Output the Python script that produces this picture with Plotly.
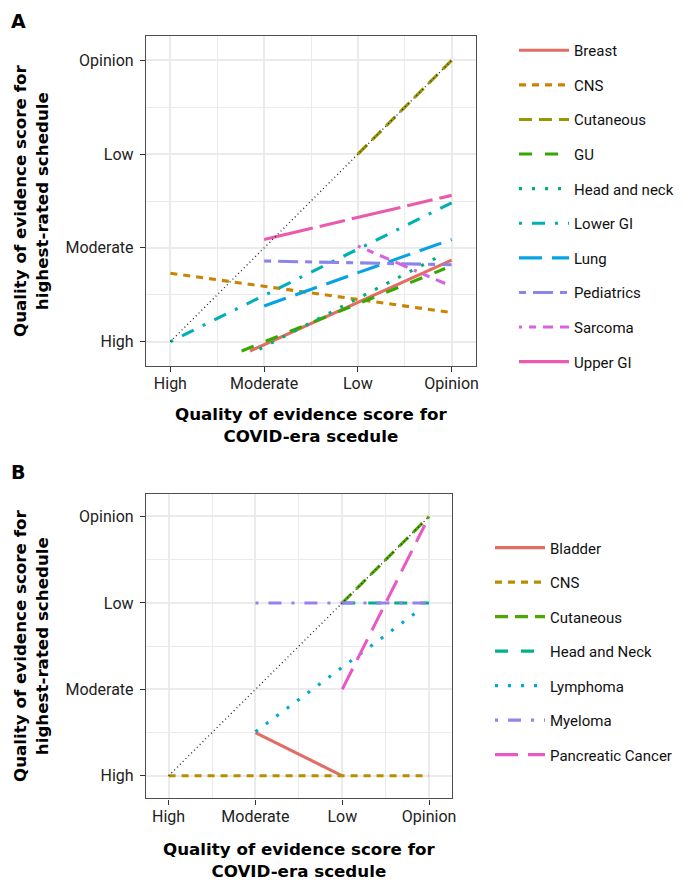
import plotly.graph_objects as go

# ---------------- data ----------------
levels = ["High", "Moderate", "Low", "Opinion"]
level_vals = [1, 2, 3, 4]
diag = [1, 4]

a_names = ["Breast", "CNS", "Cutaneous", "GU", "Head and neck", "Lower GI",
           "Lung", "Pediatrics", "Sarcoma", "Upper GI"]
a_covid = [[1.85, 4.0], [1, 4], [3, 4], [1.76, 3.93], [1.95, 3.91],
           [1, 4], [2, 4], [2, 4], [3, 4], [2, 4]]
a_best = [[0.90, 1.87], [1.73, 1.31], [3, 4], [0.90, 1.78], [0.92, 1.93],
          [1, 2.48], [1.38, 2.09], [1.86, 1.82], [2.02, 1.59], [2.09, 2.56]]

b_names = ["Bladder", "CNS", "Cutaneous", "Head and Neck", "Lymphoma",
           "Myeloma", "Pancreatic Cancer"]
b_covid = [[2, 3], [1, 4], [3, 4], [3, 4], [2, 3.92], [2, 4], [3, 3.95]]
b_best = [[1.5, 1.0], [1, 1], [3, 4], [3, 3], [1.51, 2.94], [3, 3], [2.0, 3.9]]

# ---------------- styles ----------------
a_colors = ["#E36C64", "#C98500", "#979800", "#35A800", "#00B073",
            "#00B0B4", "#06A3E4", "#8A85EC", "#D663E0", "#EB5AAD"]
b_colors = ["#E36C64", "#B68F00", "#4DA700", "#00B289", "#00A8D9",
            "#9980EC", "#E859C6"]
dashes = ["solid", "7px,6px", "13px,7px", "13px,13px", "3px,10px",
          "3px,10px,13px,10px", "23px,10px", "7px,7px,20px,7px",
          "3px,7px,7px,7px,10px,7px,13px,7px", "50px,7px,26px,7px"]

FONT = "Roboto, DejaVu Sans, sans-serif"
BFONT = "DejaVu Sans, sans-serif"
OFF = 8                      # page body margin
W, H = 685 - OFF, 885 - OFF
LW = 3.1

fig = go.Figure()

def add_panel(names, xs, ys, colors, xa, ya, legend):
    for i, n in enumerate(names):
        fig.add_trace(go.Scatter(
            x=xs[i], y=ys[i], mode="lines", name=n,
            line=dict(color=colors[i], width=LW, dash=dashes[i]),
            xaxis=xa, yaxis=ya, legend=legend, legendgroup=legend + n,
            hoverinfo="skip"))
    fig.add_trace(go.Scatter(
        x=diag, y=diag, mode="lines", showlegend=False,
        line=dict(color="#222222", width=1.3, dash="1px,3px"),
        xaxis=xa, yaxis=ya, hoverinfo="skip"))

add_panel(a_names, a_covid, a_best, a_colors, "x", "y", "legend")
add_panel(b_names, b_covid, b_best, b_colors, "x2", "y2", "legend2")

def px_x(v):
    return (v - OFF) / W

def px_y(v):
    return 1 - (v - OFF) / H

axis_common = dict(
    range=[0.74, 4.26], tickvals=level_vals, ticktext=levels,
    showgrid=True, gridcolor="#EBEBEB", gridwidth=1.6,
    minor=dict(tickvals=[1.5, 2.5, 3.5], showgrid=True,
               gridcolor="#EBEBEB", gridwidth=0.8, ticks=""),
    showline=True, linecolor="#4D4D4D", linewidth=1.4, mirror=True,
    ticks="outside", ticklen=5, tickwidth=1.4, tickcolor="#333333",
    tickfont=dict(family=FONT, size=16, color="#222222"),
    zeroline=False, fixedrange=True, automargin=False,
)

legend_common = dict(xanchor="left", yanchor="top", traceorder="grouped",
                     itemwidth=50,
                     font=dict(family=FONT, size=15, color="#111111"),
                     bgcolor="rgba(0,0,0,0)")

fig.update_layout(
    width=W, height=H, margin=dict(l=0, r=0, t=0, b=0),
    paper_bgcolor="white", plot_bgcolor="white",
    font=dict(family=FONT, color="#000000"),
    xaxis=dict(domain=[px_x(146), px_x(476)], anchor="y",
               ticklabelstandoff=-2, **axis_common),
    yaxis=dict(domain=[px_y(366), px_y(36)], anchor="x",
               ticklabelstandoff=3, **axis_common),
    xaxis2=dict(domain=[px_x(146), px_x(451.7)], anchor="y2",
                ticklabelstandoff=-2, **axis_common),
    yaxis2=dict(domain=[px_y(798.3), px_y(494)], anchor="x2",
                ticklabelstandoff=3, **axis_common),
    legend=dict(x=px_x(514), y=px_y(34), tracegroupgap=12.1,
                **legend_common),
    legend2=dict(x=px_x(490), y=px_y(531.4), tracegroupgap=12.0,
                 **legend_common),
)

title_font = dict(family=BFONT, size=16.7, color="#000000", weight="bold")
xtitle = "Quality of evidence score for<br>COVID-era scedule"
ytitle = "Quality of evidence score for<br>highest-rated schedule"
for (txt, xl, yc) in [("A", 8.5, 21.5), ("B", 8.5, 471.5)]:
    fig.add_annotation(xref="paper", yref="paper", showarrow=False,
                       x=px_x(xl), y=px_y(yc), text=txt,
                       xanchor="left", yanchor="middle",
                       font=dict(family=BFONT, size=19, color="#000000",
                                 weight="bold"))
for (xc, yc, txt, ang) in [
    (311, 425, xtitle, 0), (299, 859.5, xtitle, 0),
    (31, 201, ytitle, -90), (31, 646, ytitle, -90),
]:
    fig.add_annotation(xref="paper", yref="paper", showarrow=False,
                       x=px_x(xc), y=px_y(yc), text=txt, textangle=ang,
                       xanchor="center", yanchor="middle",
                       font=title_font)

fig.write_html("out.html")
